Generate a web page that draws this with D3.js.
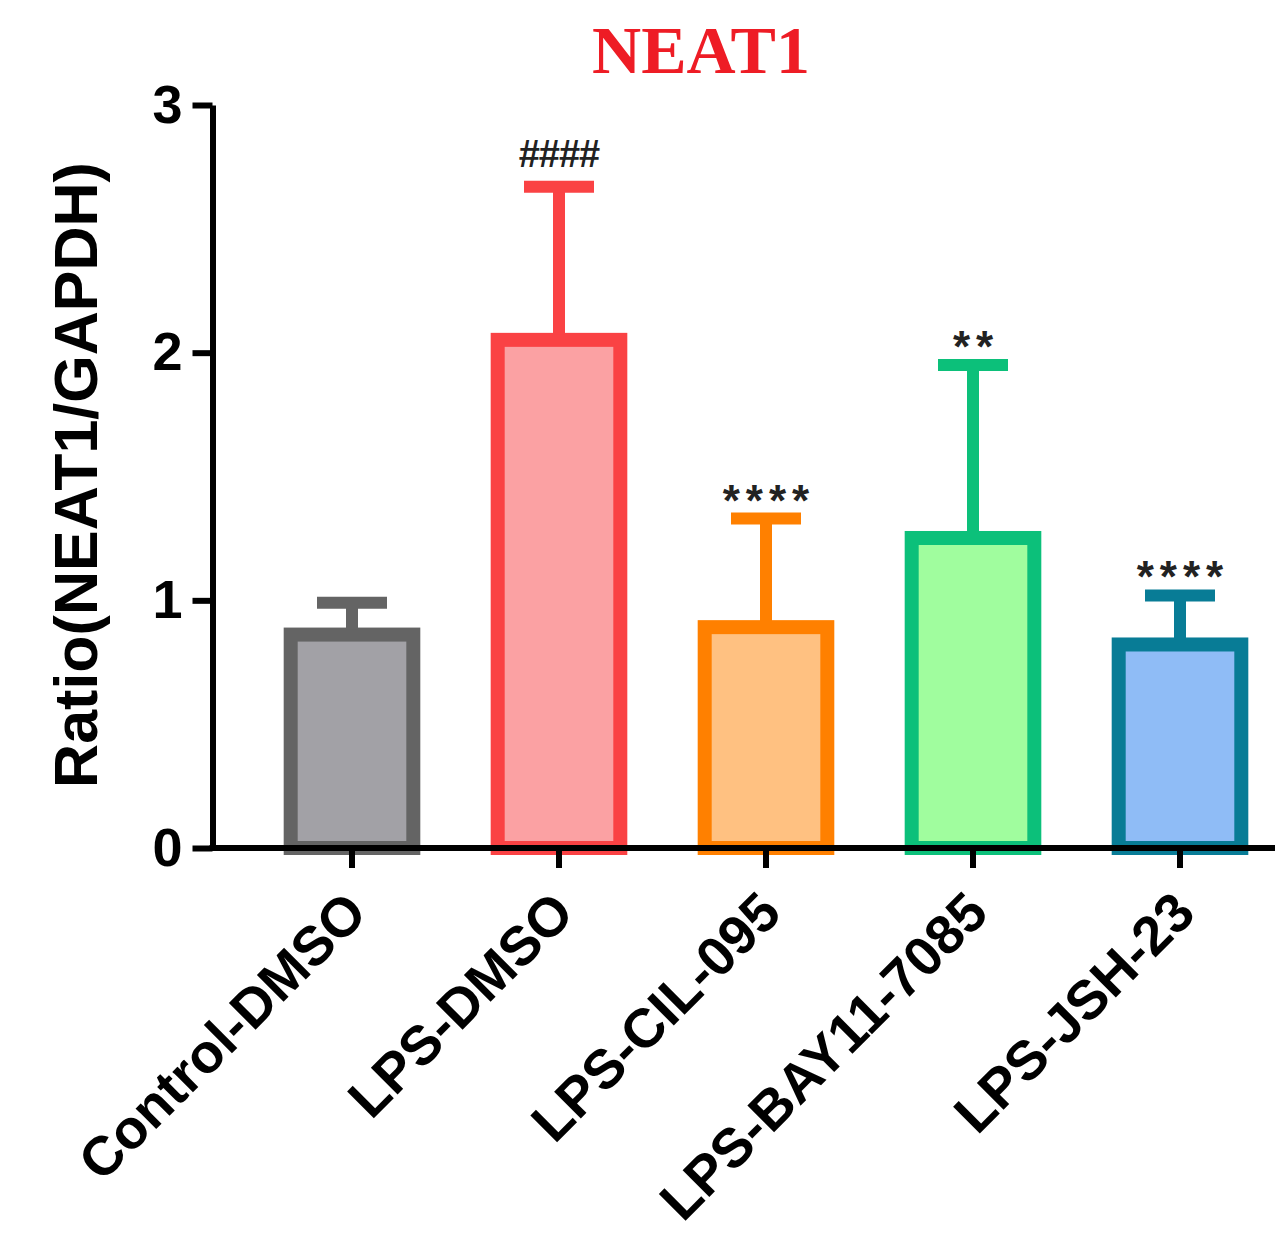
<html>
<head>
  <style>
    body { margin: 0; background: white; }
    svg { display: block; }
  </style>
  <script src="https://d3js.org/d3.v7.min.js"></script>
</head>
<body>
  <script type="text/javascript">
  // values
  var groups = ['Control-DMSO', 'LPS-DMSO', 'LPS-CIL-095', 'LPS-BAY11-7085', 'LPS-JSH-23'];
  var means = [0.89, 2.08, 0.92, 1.28, 0.85];
  var upper = [0.99, 2.67, 1.33, 1.95, 1.02];   // mean + SD
  var marks = ['', '####', '****', '**', '****'];
  var yTicks = [0, 1, 2, 3];

  var strokeCols = ['#646464', '#fa4244', '#ff8000', '#0cc07a', '#087c96'];
  var fillCols = ['#a2a1a6', '#fba1a3', '#ffc181', '#a0fd9e', '#8fbcf6'];

  var screen = {width: 1275, height: 1235};
  var axisX = 212.5;
  var sw = 14;

  var svg = d3.select('body').append('svg')
    .attr('width', screen.width)
    .attr('height', screen.height);

  // scales
  var yScale = d3.scaleLinear()
    .domain([0, 3])
    .range([848, 105]);

  var xScale = d3.scaleBand()
    .domain(groups)
    .range([248.5, 1283.5])
    .paddingInner(0.34)
    .paddingOuter(0.17);

  // bars
  svg.selectAll('rect.bar')
    .data(means)
    .enter()
    .append('rect')
    .attr('class', 'bar')
    .attr('x', function(d, i) { return xScale(groups[i]) + sw / 2; })
    .attr('y', function(d) { return yScale(d) + sw / 2; })
    .attr('width', xScale.bandwidth() - sw)
    .attr('height', function(d) { return yScale(0) - yScale(d) - sw / 2; })
    .attr('fill', function(d, i) { return fillCols[i]; })
    .attr('stroke', function(d, i) { return strokeCols[i]; })
    .attr('stroke-width', sw);

  // error bars (upper only)
  var capW = 70;
  groups.forEach(function(g, i) {
    var cx = xScale(g) + xScale.bandwidth() / 2;
    svg.append('line')
      .attr('x1', cx).attr('x2', cx)
      .attr('y1', yScale(means[i]) + 2)
      .attr('y2', yScale(upper[i]))
      .attr('stroke', strokeCols[i])
      .attr('stroke-width', 12);
    svg.append('line')
      .attr('x1', cx - capW / 2).attr('x2', cx + capW / 2)
      .attr('y1', yScale(upper[i]))
      .attr('y2', yScale(upper[i]))
      .attr('stroke', strokeCols[i])
      .attr('stroke-width', 12);

    if (marks[i]) {
      var isHash = marks[i].charAt(0) == '#';
      svg.append('text')
        .attr('x', cx + (isHash ? 0 : 3))
        .attr('y', isHash ? yScale(upper[i]) - 20 : yScale(upper[i]) - 3)
        .attr('text-anchor', 'middle')
        .style('font-family', 'Liberation Sans, Arial, sans-serif')
        .style('font-weight', 'bold')
        .style('font-size', isHash ? '38px' : '44px')
        .style('letter-spacing', isHash ? '-1px' : '6px')
        .style('fill', '#222')
        .text(marks[i]);
    }
  });

  // y axis
  var yAxis = d3.axisLeft(yScale)
    .tickValues(yTicks)
    .tickFormat(d3.format('d'))
    .tickSize(20)
    .tickSizeOuter(0)
    .tickPadding(10);

  var gy = svg.append('g')
    .attr('transform', 'translate(' + axisX + ',0)')
    .call(yAxis);
  gy.select('.domain').attr('stroke', '#000').attr('stroke-width', 6);
  gy.selectAll('.tick line').attr('stroke', '#000').attr('stroke-width', 6);
  gy.selectAll('.tick text')
    .style('font-family', 'Liberation Sans, Arial, sans-serif')
    .style('font-weight', 'bold')
    .style('font-size', '54px')
    .attr('fill', '#000');

  // x axis
  var xAxis = d3.axisBottom(xScale)
    .tickSize(20)
    .tickSizeOuter(0)
    .tickFormat('');
  var gx = svg.append('g')
    .attr('transform', 'translate(0,' + yScale(0) + ')')
    .call(xAxis);
  gx.select('.domain').remove();
  gx.selectAll('.tick line').attr('stroke', '#000').attr('stroke-width', 6);

  svg.append('line')
    .attr('x1', axisX - 3)
    .attr('x2', screen.width)
    .attr('y1', yScale(0))
    .attr('y2', yScale(0))
    .attr('stroke', '#000')
    .attr('stroke-width', 6);

  // rotated category labels
  svg.selectAll('text.xlab')
    .data(groups)
    .enter()
    .append('text')
    .attr('class', 'xlab')
    .attr('transform', function(d) {
      var cx = xScale(d) + xScale.bandwidth() / 2;
      return 'translate(' + (cx + 4) + ',' + (yScale(0) + 54) + ') rotate(-45)';
    })
    .attr('text-anchor', 'end')
    .attr('dy', '0.35em')
    .style('font-family', 'Liberation Sans, Arial, sans-serif')
    .style('font-weight', 'bold')
    .style('font-size', '55px')
    .text(function(d) { return d; });

  // y axis title
  svg.append('text')
    .attr('transform', 'translate(97,475) rotate(-90)')
    .attr('text-anchor', 'middle')
    .style('font-family', 'Liberation Sans, Arial, sans-serif')
    .style('font-weight', 'bold')
    .style('font-size', '61px')
    .text('Ratio(NEAT1/GAPDH)');

  // title
  svg.append('text')
    .attr('x', 701)
    .attr('y', 73)
    .attr('text-anchor', 'middle')
    .style('font-family', 'Liberation Serif, Times New Roman, serif')
    .style('font-weight', 'bold')
    .style('font-size', '68px')
    .style('fill', '#ee1c25')
    .text('NEAT1');
  </script>
</body>
</html>
